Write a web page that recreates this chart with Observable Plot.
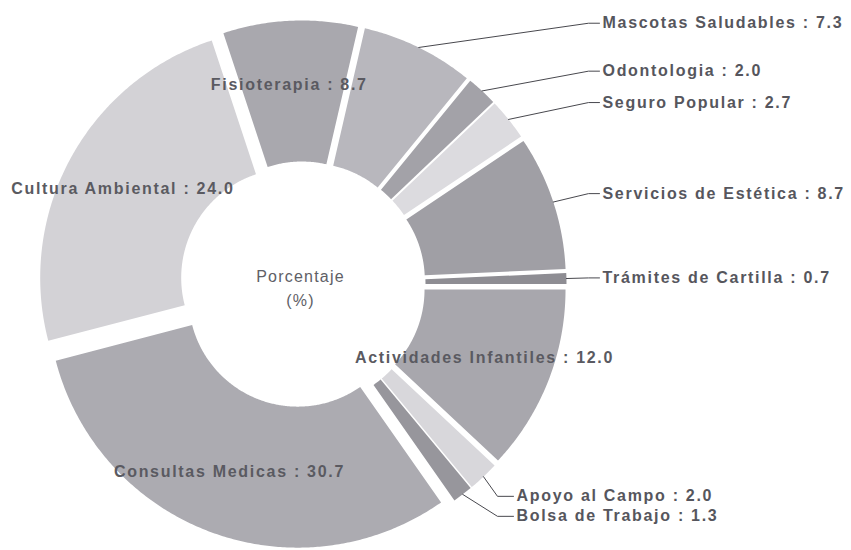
<!DOCTYPE html>
<html><head><meta charset="utf-8">
<script src="https://cdn.jsdelivr.net/npm/d3@7"></script>
<script src="https://cdn.jsdelivr.net/npm/@observablehq/plot@0.6"></script>
<style>
html,body{margin:0;padding:0;background:#fff;}
#chart svg .lbl text{letter-spacing:1.7px;}
#chart svg .ctr text{letter-spacing:1.2px;}
</style></head><body><div id="chart"></div>
<script>
// ---- data ----
const categories = ["Mascotas Saludables","Odontologia","Seguro Popular","Servicios de Estética","Trámites de Cartilla","Actividades Infantiles","Apoyo al Campo","Bolsa de Trabajo","Consultas Medicas","Cultura Ambiental","Fisioterapia"];
const values = [7.3, 2.0, 2.7, 8.7, 0.7, 12.0, 2.0, 1.3, 30.7, 24.0, 8.7];
const palette = ["#b8b7bd","#a3a2a8","#dcdbdf","#a09fa5","#8e8d93","#a8a7ad","#d8d7db","#97969c","#acabb1","#d3d2d6","#a9a8ae"];
const insideLabels = ["Actividades Infantiles","Consultas Medicas","Cultura Ambiental","Fisioterapia"];
const centerTitle = "Porcentaje\n(%)";

// ---- layout ----
const W = 851, H = 550, CX = 302, CY = 284;
const R_OUT = 250, R_IN = 109, EXPLODE = 14, START = 13 * Math.PI / 180;
const R_LABEL = 291, R_INLABEL = 200;

const arcs = d3.pie().sort(null).value(d => d).startAngle(START).endAngle(START + 2 * Math.PI)(values);
const slices = arcs.map((a, i) => ({
  name: categories[i], value: values[i], color: palette[i],
  a0: a.startAngle, a1: a.endAngle, mid: (a.startAngle + a.endAngle) / 2
}));

const polys = [];
for (const s of slices) {
  const dx = EXPLODE * Math.sin(s.mid), dy = EXPLODE * Math.cos(s.mid);
  const n = Math.max(2, Math.ceil((s.a1 - s.a0) / (Math.PI / 360)));
  for (let k = 0; k <= n; k++) {
    const a = s.a0 + (s.a1 - s.a0) * k / n;
    polys.push({name: s.name, color: s.color, x: dx + R_OUT * Math.sin(a), y: dy + R_OUT * Math.cos(a)});
  }
  for (let k = n; k >= 0; k--) {
    const a = s.a0 + (s.a1 - s.a0) * k / n;
    polys.push({name: s.name, color: s.color, x: dx + R_IN * Math.sin(a), y: dy + R_IN * Math.cos(a)});
  }
}

// inside labels
const inLab = slices.filter(s => insideLabels.includes(s.name)).map(s => ({
  text: `${s.name} : ${s.value.toFixed(1)}`,
  x: R_INLABEL * Math.sin(s.mid) - 4, y: R_INLABEL * Math.cos(s.mid)
}));

// outside labels with leaders
const outSl = slices.filter(s => !insideLabels.includes(s.name));
const outLab = outSl.map(s => {
  const right = s.mid < Math.PI * 100 / 180;
  return {
    name: s.name, text: `${s.name} : ${s.value.toFixed(1)}`, mid: s.mid,
    ax: (R_OUT + EXPLODE) * Math.sin(s.mid), ay: (R_OUT + EXPLODE) * Math.cos(s.mid),
    ly: R_LABEL * Math.cos(s.mid),
    elbowX: right ? 286 : 195, textX: right ? 300 : 214
  };
});
// simple collision avoidance (top to bottom)
outLab.sort((a, b) => b.ly - a.ly);
for (let i = 1; i < outLab.length; i++) {
  if (outLab[i - 1].ly - outLab[i].ly < 20) outLab[i].ly = outLab[i - 1].ly - 20;
}
const leaders = [];
for (const l of outLab) {
  leaders.push({name: l.name, x: l.ax, y: l.ay});
  leaders.push({name: l.name, x: l.elbowX, y: l.ly});
  leaders.push({name: l.name, x: l.textX - 3, y: l.ly});
}

const font = "Liberation Sans, Arial, sans-serif";
const chart = Plot.plot({
  width: W, height: H,
  marginTop: 0, marginRight: 0, marginBottom: 0, marginLeft: 0,
  x: {domain: [-CX, W - CX], axis: null},
  y: {domain: [-(H - CY), CY], axis: null},
  color: {type: "identity"},
  style: {background: "#fff"},
  marks: [
    Plot.line(polys, {x: "x", y: "y", z: "name", fill: "color", stroke: null, curve: "linear"}),
    Plot.line(leaders, {x: "x", y: "y", z: "name", stroke: "#48484e", strokeWidth: 1}),
    Plot.text(outLab, {x: "textX", y: "ly", text: "text", textAnchor: "start", fontFamily: font, fontSize: 16, fontWeight: "bold", fill: "#56565d", className: "lbl"}),
    Plot.text(inLab, {x: "x", y: "y", text: "text", textAnchor: "middle", fontFamily: font, fontSize: 16, fontWeight: "bold", fill: "#5a5a61", className: "lbl"}),
    Plot.text([centerTitle], {x: () => -2, y: () => -2, text: d => d, textAnchor: "middle", lineHeight: 1.45, fontFamily: font, fontSize: 16, fill: "#606066", className: "ctr"})
  ]
});
document.getElementById("chart").appendChild(chart);
</script>
</body></html>
